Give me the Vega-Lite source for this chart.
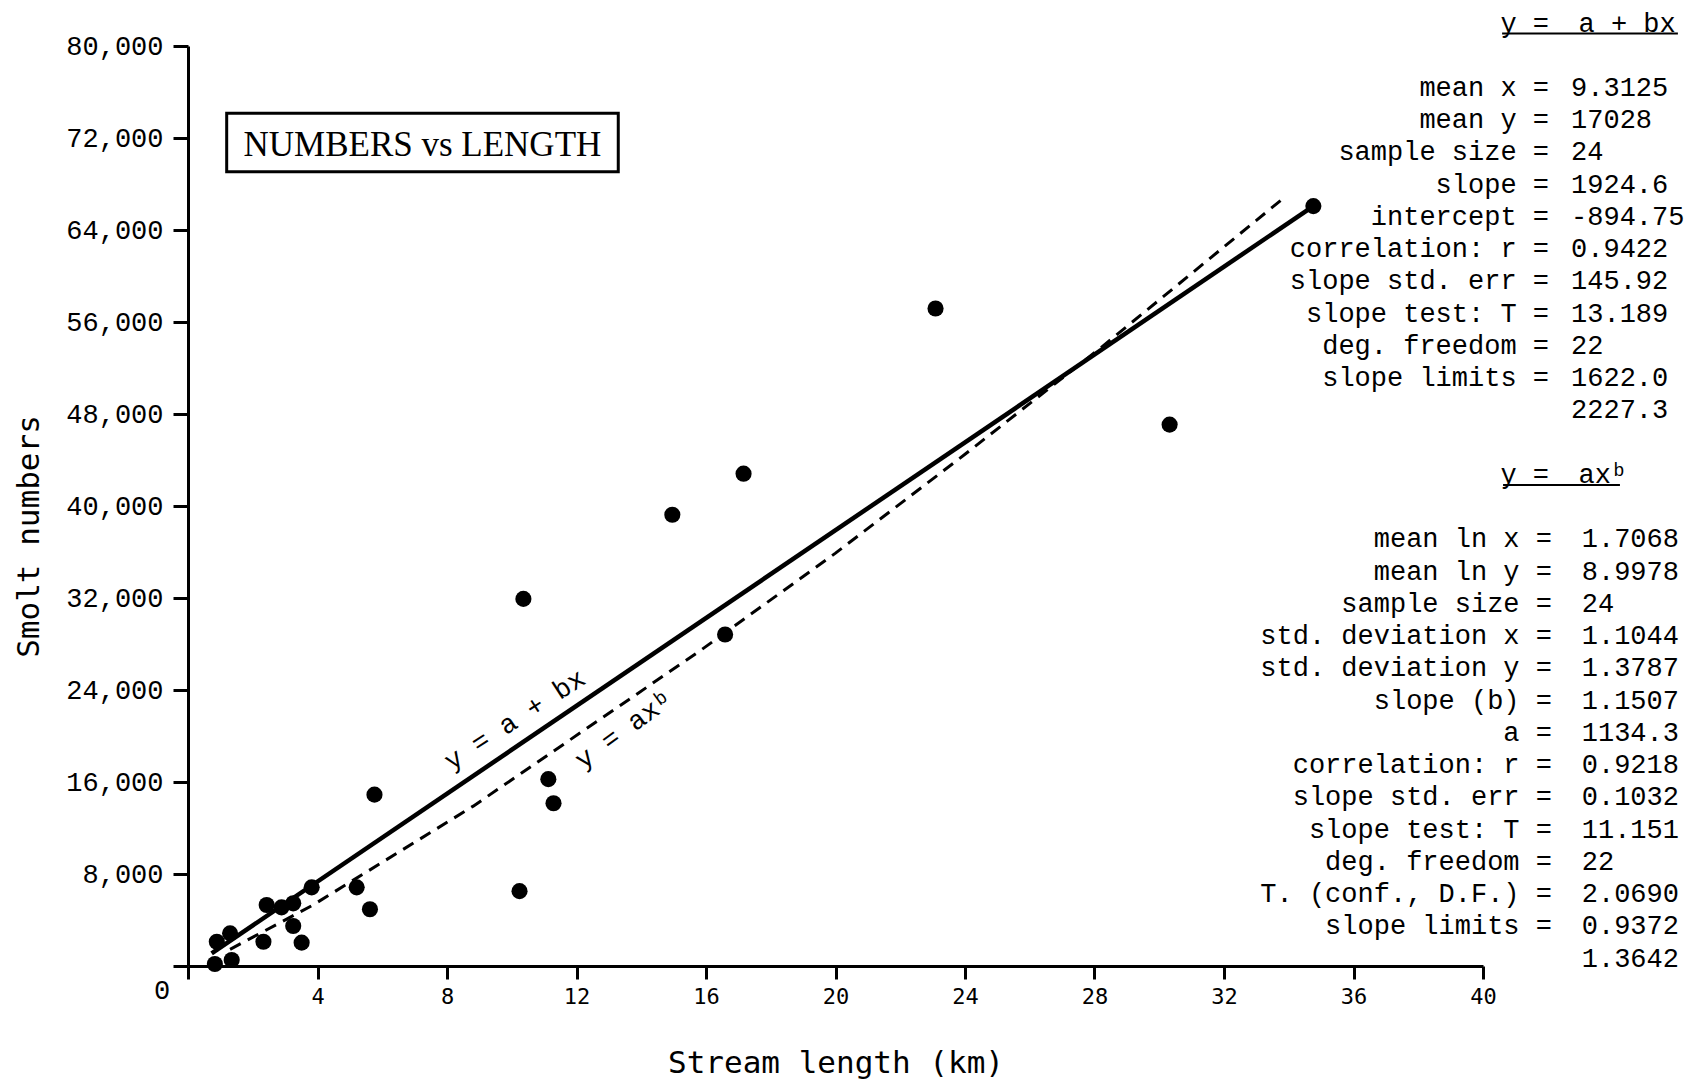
{
  "$schema": "https://vega.github.io/schema/vega-lite/v6.json",
  "width": 1295,
  "height": 920,
  "autosize": "none",
  "padding": {"left": 188, "top": 46, "right": 209, "bottom": 113},
  "background": "white",
  "config": {
    "view": {"stroke": null},
    "axis": {
      "domainColor": "black", "domainWidth": 3, "tickColor": "black", "tickWidth": 3,
      "labelColor": "black", "titleColor": "black", "grid": false, "titleFontWeight": "normal",
      "labelOverlap": false, "labelFlush": false
    }
  },
  "datasets": {
    "points": [
      {"length": 0.83, "smolts": 170}, {"length": 1.35, "smolts": 520}, {"length": 0.89, "smolts": 2110},
      {"length": 1.30, "smolts": 2840}, {"length": 2.33, "smolts": 2110}, {"length": 3.51, "smolts": 2030},
      {"length": 3.25, "smolts": 3480}, {"length": 2.43, "smolts": 5300}, {"length": 2.89, "smolts": 5100},
      {"length": 3.25, "smolts": 5450}, {"length": 3.82, "smolts": 6840}, {"length": 5.21, "smolts": 6840},
      {"length": 5.62, "smolts": 4930}, {"length": 5.76, "smolts": 14900}, {"length": 10.24, "smolts": 6510},
      {"length": 11.13, "smolts": 16250}, {"length": 11.29, "smolts": 14150}, {"length": 10.36, "smolts": 31920},
      {"length": 16.59, "smolts": 28830}, {"length": 14.96, "smolts": 39240}, {"length": 17.16, "smolts": 42810},
      {"length": 30.32, "smolts": 47080}, {"length": 23.09, "smolts": 57170}, {"length": 34.76, "smolts": 66080}
    ],
    "linearFit": [{"length": 0.73, "smolts": 1100}, {"length": 34.76, "smolts": 66080}],
    "powerFit": [
      {"length": 1.3, "smolts": 1450}, {"length": 3.86, "smolts": 5300}, {"length": 8.81, "smolts": 13900},
      {"length": 15.81, "smolts": 27400}, {"length": 20.0, "smolts": 35900}, {"length": 24.0, "smolts": 44500},
      {"length": 28.17, "smolts": 53700}, {"length": 33.92, "smolts": 66960}
    ],
    "lineLabels": [
      {"length": 10.1, "smolts": 21390, "label": "y = a + bx", "fit": "linear"},
      {"length": 13.47, "smolts": 20520, "label": "y = axᵇ", "fit": "power"}
    ],
    "titles": [
      {"row": 0, "eq": "y =", "form": "a + bx"},
      {"row": 14, "eq": "y =", "form": "axᵇ"}
    ],
    "linearStats": [
      {"row": 2, "label": "mean x =", "value": "9.3125"},
      {"row": 3, "label": "mean y =", "value": "17028"},
      {"row": 4, "label": "sample size =", "value": "24"},
      {"row": 5, "label": "slope =", "value": "1924.6"},
      {"row": 6, "label": "intercept =", "value": "-894.75"},
      {"row": 7, "label": "correlation: r =", "value": "0.9422"},
      {"row": 8, "label": "slope std. err =", "value": "145.92"},
      {"row": 9, "label": "slope test: T =", "value": "13.189"},
      {"row": 10, "label": "deg. freedom =", "value": "22"},
      {"row": 11, "label": "slope limits =", "value": "1622.0"},
      {"row": 12, "label": "", "value": "2227.3"}
    ],
    "powerStats": [
      {"row": 16, "label": "mean ln x =", "value": "1.7068"},
      {"row": 17, "label": "mean ln y =", "value": "8.9978"},
      {"row": 18, "label": "sample size =", "value": "24"},
      {"row": 19, "label": "std. deviation x =", "value": "1.1044"},
      {"row": 20, "label": "std. deviation y =", "value": "1.3787"},
      {"row": 21, "label": "slope (b) =", "value": "1.1507"},
      {"row": 22, "label": "a =", "value": "1134.3"},
      {"row": 23, "label": "correlation: r =", "value": "0.9218"},
      {"row": 24, "label": "slope std. err =", "value": "0.1032"},
      {"row": 25, "label": "slope test: T =", "value": "11.151"},
      {"row": 26, "label": "deg. freedom =", "value": "22"},
      {"row": 27, "label": "T. (conf., D.F.) =", "value": "2.0690"},
      {"row": 28, "label": "slope limits =", "value": "0.9372"},
      {"row": 29, "label": "", "value": "1.3642"}
    ],
    "underlines": [
      {"row": 0, "from": 40.59, "to": 46.02},
      {"row": 14, "from": 40.62, "to": 44.23}
    ]
  },
  "layer": [
    {
      "layer": [
        {
          "data": {"name": "points"},
          "mark": {"type": "point", "filled": true, "color": "black", "size": 260, "opacity": 1},
          "encoding": {
            "x": {
              "field": "length", "type": "quantitative", "title": "Stream length (km)",
              "scale": {"domain": [0, 40], "nice": false, "zero": false},
              "axis": {
                "values": [0, 4, 8, 12, 16, 20, 24, 28, 32, 36, 40],
                "labelExpr": "datum.value == 0 ? '' : datum.label",
                "tickSize": 13, "labelPadding": 7,
                "labelFont": "DejaVu Sans Mono", "labelFontSize": 22,
                "titleFont": "DejaVu Sans Mono", "titleFontSize": 31, "titlePadding": 41
              }
            },
            "y": {
              "field": "smolts", "type": "quantitative", "title": "Smolt numbers",
              "scale": {"domain": [0, 80000], "nice": false, "zero": false},
              "axis": {
                "values": [0, 8000, 16000, 24000, 32000, 40000, 48000, 56000, 64000, 72000, 80000],
                "format": ",d",
                "labelExpr": "datum.value == 0 ? '' : datum.label",
                "tickSize": 15, "labelPadding": 10,
                "labelFont": "Liberation Mono", "labelFontSize": 27,
                "titleFont": "DejaVu Sans Mono", "titleFontSize": 31, "titlePadding": 20,
                "titleY": 490
              }
            }
          }
        },
        {
          "data": {"name": "linearFit"},
          "mark": {"type": "line", "color": "black", "strokeWidth": 4.5},
          "encoding": {
            "x": {"field": "length", "type": "quantitative", "title": "Stream length (km)"},
            "y": {"field": "smolts", "type": "quantitative", "title": "Smolt numbers"}
          }
        },
        {
          "data": {"name": "powerFit"},
          "mark": {"type": "line", "color": "black", "strokeWidth": 3, "strokeDash": [12, 8]},
          "encoding": {
            "x": {"field": "length", "type": "quantitative", "title": "Stream length (km)"},
            "y": {"field": "smolts", "type": "quantitative", "title": "Smolt numbers"}
          }
        },
        {
          "data": {"name": "lineLabels"},
          "transform": [{"filter": "datum.fit == 'linear'"}],
          "mark": {"type": "text", "font": "Liberation Mono", "fontSize": 27, "angle": -33, "align": "center", "baseline": "middle", "color": "black"},
          "encoding": {
            "x": {"field": "length", "type": "quantitative", "title": "Stream length (km)"},
            "y": {"field": "smolts", "type": "quantitative", "title": "Smolt numbers"},
            "text": {"field": "label"}
          }
        },
        {
          "data": {"name": "lineLabels"},
          "transform": [{"filter": "datum.fit == 'power'"}],
          "mark": {"type": "text", "font": "Liberation Mono", "fontSize": 27, "angle": -36, "align": "center", "baseline": "middle", "color": "black"},
          "encoding": {
            "x": {"field": "length", "type": "quantitative", "title": "Stream length (km)"},
            "y": {"field": "smolts", "type": "quantitative", "title": "Smolt numbers"},
            "text": {"field": "label"}
          }
        },
        {
          "data": {"values": [{}]},
          "mark": {"type": "rect", "fill": "white", "stroke": "black", "strokeWidth": 3},
          "encoding": {
            "x": {"datum": 1.195, "type": "quantitative", "title": "Stream length (km)"},
            "x2": {"datum": 13.29},
            "y": {"datum": 74148, "type": "quantitative", "title": "Smolt numbers"},
            "y2": {"datum": 69070}
          }
        },
        {
          "data": {"values": [{}]},
          "mark": {"type": "text", "font": "Liberation Serif", "fontSize": 35, "align": "center", "baseline": "middle", "color": "black"},
          "encoding": {
            "x": {"datum": 7.24, "type": "quantitative", "title": "Stream length (km)"},
            "y": {"datum": 71390, "type": "quantitative", "title": "Smolt numbers"},
            "text": {"value": "NUMBERS vs LENGTH"}
          }
        },
        {
          "data": {"values": [{}]},
          "mark": {"type": "text", "font": "Liberation Mono", "fontSize": 27, "align": "center", "baseline": "middle", "dx": -26, "dy": 25, "color": "black"},
          "encoding": {
            "x": {"datum": 0, "type": "quantitative", "title": "Stream length (km)"},
            "y": {"datum": 0, "type": "quantitative", "title": "Smolt numbers"},
            "text": {"value": "0"}
          }
        }
      ]
    },
    {
      "layer": [
        {
          "data": {"name": "titles"},
          "mark": {"type": "text", "align": "right", "baseline": "alphabetic", "font": "Liberation Mono", "fontSize": 27, "color": "black"},
          "encoding": {
            "x": {"datum": 42.04, "type": "quantitative", "title": "Stream length (km)"},
            "y": {"field": "row", "type": "quantitative", "scale": {"domain": [0.4496, 28.977], "reverse": true, "nice": false, "zero": false}, "axis": null},
            "text": {"field": "eq"}
          }
        },
        {
          "data": {"name": "titles"},
          "mark": {"type": "text", "align": "left", "baseline": "alphabetic", "font": "Liberation Mono", "fontSize": 27, "color": "black"},
          "encoding": {
            "x": {"datum": 42.95, "type": "quantitative", "title": "Stream length (km)"},
            "y": {"field": "row", "type": "quantitative", "axis": null},
            "text": {"field": "form"}
          }
        },
        {
          "data": {"name": "linearStats"},
          "mark": {"type": "text", "align": "right", "baseline": "alphabetic", "font": "Liberation Mono", "fontSize": 27, "color": "black"},
          "encoding": {
            "x": {"datum": 42.04, "type": "quantitative", "title": "Stream length (km)"},
            "y": {"field": "row", "type": "quantitative", "axis": null},
            "text": {"field": "label"}
          }
        },
        {
          "data": {"name": "linearStats"},
          "mark": {"type": "text", "align": "left", "baseline": "alphabetic", "font": "Liberation Mono", "fontSize": 27, "color": "black"},
          "encoding": {
            "x": {"datum": 42.72, "type": "quantitative", "title": "Stream length (km)"},
            "y": {"field": "row", "type": "quantitative", "axis": null},
            "text": {"field": "value"}
          }
        },
        {
          "data": {"name": "powerStats"},
          "mark": {"type": "text", "align": "right", "baseline": "alphabetic", "font": "Liberation Mono", "fontSize": 27, "color": "black"},
          "encoding": {
            "x": {"datum": 42.13, "type": "quantitative", "title": "Stream length (km)"},
            "y": {"field": "row", "type": "quantitative", "axis": null},
            "text": {"field": "label"}
          }
        },
        {
          "data": {"name": "powerStats"},
          "mark": {"type": "text", "align": "left", "baseline": "alphabetic", "font": "Liberation Mono", "fontSize": 27, "color": "black"},
          "encoding": {
            "x": {"datum": 43.05, "type": "quantitative", "title": "Stream length (km)"},
            "y": {"field": "row", "type": "quantitative", "axis": null},
            "text": {"field": "value"}
          }
        },
        {
          "data": {"name": "underlines"},
          "mark": {"type": "rule", "color": "black", "strokeWidth": 2, "yOffset": 2},
          "encoding": {
            "x": {"field": "from", "type": "quantitative", "title": "Stream length (km)"},
            "x2": {"field": "to"},
            "y": {"field": "row", "type": "quantitative", "axis": null}
          }
        }
      ]
    }
  ],
  "resolve": {"scale": {"y": "independent"}, "axis": {"y": "independent"}}
}
